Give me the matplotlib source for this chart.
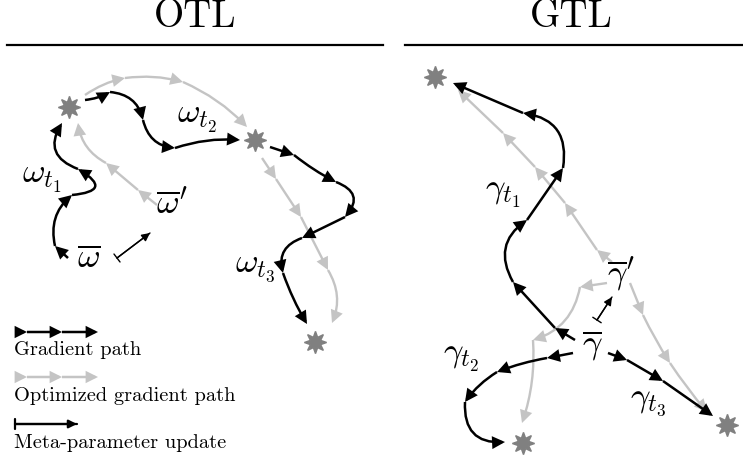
import matplotlib
matplotlib.use("Agg")
import matplotlib.pyplot as plt
from matplotlib.patches import FancyArrowPatch

plt.rcParams["mathtext.fontset"] = "cm"

W, H = 743, 461
BLACK = "black"
GRAY = "#c4c4c4"
STAR = "#808080"

# ---- waypoints (pixel coords, y down) and bend of each step ----
otl_grad_1 = [(68, 258), (55, 246), (72, 195), (78, 169), (62, 123)]
otl_rad_1 = [0.0, -0.3, 1.5, -0.6]
otl_grad_2 = [(85, 100), (110, 92), (143, 120), (175, 148), (240, 140)]
otl_rad_2 = [0.1, -0.35, 0.35, -0.1]
otl_grad_3 = [(270, 147), (294, 155), (336, 182), (345, 217), (302, 238), (283, 273), (307, 324)]
otl_rad_3 = [0.0, 0.05, -0.7, 0.0, 0.45, 0.05]

otl_opt_1 = [(157, 205), (138, 190), (106, 163), (78, 123)]
otl_rad_o1 = [0.0, 0.0, -0.25]
otl_opt_2 = [(85, 95), (125, 78), (183, 82), (247, 127)]
otl_rad_o2 = [-0.1, -0.1, -0.1]
otl_opt_3 = [(262, 158), (276, 179), (301, 217), (328, 270), (332, 323)]
otl_rad_o3 = [0.0, 0.0, 0.0, -0.25]

gtl_grad_1 = [(575, 340), (555, 328), (513, 282), (527, 220), (563, 168), (523, 113), (453, 83)]
gtl_rad_1 = [0.0, 0.0, -0.45, 0.0, 0.5, 0.0]
gtl_grad_2 = [(573, 353), (547, 358), (497, 372), (465, 402), (505, 442)]
gtl_rad_2 = [0.0, 0.05, 0.1, 0.55]
gtl_grad_3 = [(608, 353), (627, 360), (663, 381), (713, 416)]
gtl_rad_3 = [0.0, 0.0, 0.0]

gtl_opt_1 = [(612, 262), (597, 250), (565, 203), (535, 167), (503, 133), (458, 90)]
gtl_rad_o1 = [0.0, 0.0, 0.0, 0.0, 0.0]
gtl_opt_2 = [(607, 283), (580, 287), (533, 340), (522, 423)]
gtl_rad_o2 = [0.0, -0.3, -0.1]
gtl_opt_3 = [(630, 283), (643, 315), (670, 363), (707, 412)]
gtl_rad_o3 = [0.0, 0.03, 0.03]

stars = [(69, 107), (255, 140), (315, 342), (435, 77), (523, 443), (727, 425)]

meta_updates = [((117, 258), (150, 233)), ((597, 320), (612, 297)), ((15, 424), (77, 424))]

labels = [
    (r"$\omega_{t_1}$", 42, 178),
    (r"$\omega_{t_2}$", 197, 118),
    (r"$\omega_{t_3}$", 255, 268),
    (r"$\overline{\omega}'$", 172, 205),
    (r"$\overline{\omega}$", 89, 257),
    (r"$\gamma_{t_1}$", 503, 193),
    (r"$\gamma_{t_2}$", 461, 357),
    (r"$\gamma_{t_3}$", 648, 402),
    (r"$\overline{\gamma}'$", 621, 275),
    (r"$\overline{\gamma}$", 592, 345),
]

legend_x = [15, 27, 62, 98]
legend_y = [332, 377]
legend_text = ["Gradient path", "Optimized gradient path", "Meta-parameter update"]


def draw_path(ax, pts, rads, color, lw=1.8, scale=16):
    for (p0, p1), r in zip(zip(pts[:-1], pts[1:]), rads):
        ax.add_patch(FancyArrowPatch(p0, p1, connectionstyle=f"arc3,rad={r}",
                                     arrowstyle="-|>", mutation_scale=scale,
                                     color=color, lw=lw, shrinkA=0, shrinkB=0,
                                     joinstyle="miter", capstyle="butt"))


def draw_update(ax, p0, p1, lw):
    ax.add_patch(FancyArrowPatch(p0, p1, arrowstyle="-|>", mutation_scale=12,
                                 color="black", lw=lw, shrinkA=0, shrinkB=0))
    ax.add_patch(FancyArrowPatch(p0, p1, arrowstyle="|-|,widthA=0.3,widthB=0.0",
                                 mutation_scale=12, color="black", lw=lw,
                                 shrinkA=0, shrinkB=0))


fig = plt.figure(figsize=(W / 100, H / 100), dpi=100)
ax = fig.add_axes([0, 0, 1, 1])
ax.set_xlim(0, W)
ax.set_ylim(H, 0)
ax.axis("off")

# titles and rules
ax.text(195, 17, "OTL", fontfamily="cmr10", fontsize=28, ha="center", va="center")
ax.text(571, 17, "GTL", fontfamily="cmr10", fontsize=28, ha="center", va="center")
ax.plot([7, 383], [45, 45], color="black", lw=1.6)
ax.plot([405, 743], [45, 45], color="black", lw=1.6)

# optimized (gray) paths first, then gradient paths on top
for pts, rads in [(otl_opt_1, otl_rad_o1), (otl_opt_2, otl_rad_o2), (otl_opt_3, otl_rad_o3),
                  (gtl_opt_1, gtl_rad_o1), (gtl_opt_2, gtl_rad_o2), (gtl_opt_3, gtl_rad_o3)]:
    draw_path(ax, pts, rads, GRAY, lw=1.7)

for pts, rads in [(otl_grad_1, otl_rad_1), (otl_grad_2, otl_rad_2), (otl_grad_3, otl_rad_3),
                  (gtl_grad_1, gtl_rad_1), (gtl_grad_2, gtl_rad_2), (gtl_grad_3, gtl_rad_3)]:
    draw_path(ax, pts, rads, BLACK, lw=1.8)

for (sx, sy) in stars:
    ax.plot(sx, sy, marker=(8, 1, 0), ms=16, color=STAR, mec=STAR, zorder=5)

for (p0, p1), lw in zip(meta_updates, [1.0, 1.0, 1.6]):
    draw_update(ax, p0, p1, lw)

for txt, x, y in labels:
    ax.text(x, y, txt, fontsize=25, ha="center", va="center")

# legend
lx = list(zip(legend_x, [legend_y[0]] * 4))
draw_path(ax, lx, [0, 0, 0], BLACK, lw=1.8, scale=15)
lx = list(zip(legend_x, [legend_y[1]] * 4))
draw_path(ax, lx, [0, 0, 0], GRAY, lw=1.8, scale=15)
for txt, y in zip(legend_text, [350, 396, 443]):
    ax.text(14, y, txt, fontfamily="cmr10", fontsize=14.7, ha="left", va="center")

fig.savefig("out.png", dpi=100)
